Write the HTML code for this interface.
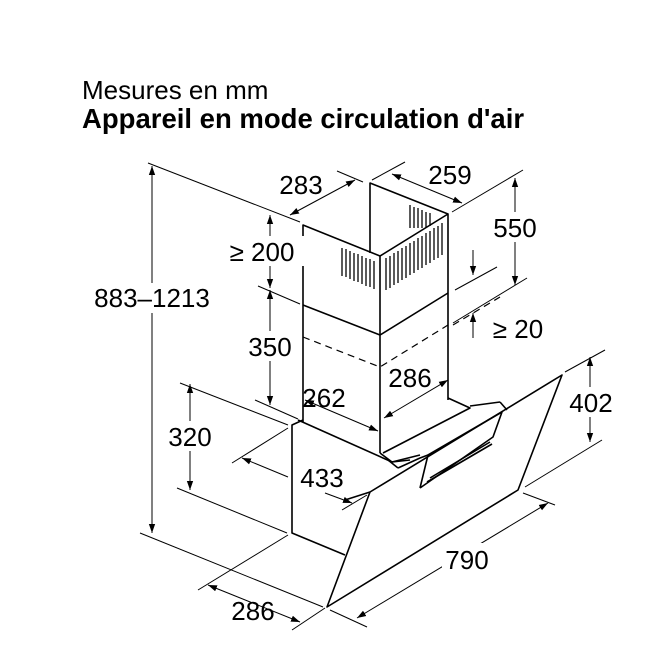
<!DOCTYPE html>
<html><head><meta charset="utf-8"><style>
html,body{margin:0;padding:0;background:#fff}
svg{display:block}
text{font-family:"Liberation Sans",Arial,sans-serif;fill:#000}
</style></head><body>
<svg width="664" height="660" viewBox="0 0 664 660" xmlns="http://www.w3.org/2000/svg">
<defs>
<marker id="a" viewBox="0 0 10 10" refX="10" refY="5" markerWidth="9" markerHeight="9" orient="auto-start-reverse" markerUnits="userSpaceOnUse">
<path d="M0,1.5 L10,5 L0,8.5 Z" fill="#000"/></marker>
</defs>
<text x="82" y="99" font-size="26">Mesures en mm</text>
<text x="82" y="128" font-size="27.5" font-weight="bold">Appareil en mode circulation d'air</text>

<g stroke="#000" fill="none" stroke-width="1">
<line x1="148" y1="163" x2="300" y2="222"/>
<line x1="140" y1="533" x2="323" y2="607"/>
<line x1="337" y1="171" x2="363" y2="182"/>
<line x1="372" y1="180" x2="405" y2="162"/>
<line x1="452" y1="212" x2="523" y2="170"/>
<line x1="455" y1="290" x2="497" y2="267"/>
<line x1="453" y1="323" x2="527" y2="278"/>
<line x1="258" y1="286" x2="300" y2="304"/>
<line x1="255" y1="400" x2="298" y2="419"/>
<line x1="180" y1="383" x2="288" y2="425"/>
<line x1="177" y1="488" x2="287" y2="533"/>
<line x1="525" y1="487" x2="602" y2="440"/>
<line x1="565" y1="372" x2="605" y2="350"/>
<line x1="232" y1="463" x2="288" y2="428"/>
<line x1="342" y1="510" x2="367" y2="495"/>
<line x1="523" y1="493" x2="555" y2="505"/>
<line x1="330" y1="610" x2="367" y2="627"/>
<line x1="198" y1="590" x2="288" y2="535"/>
<line x1="292" y1="630" x2="325" y2="608"/>
</g>

<g stroke="#000" fill="none" stroke-width="1" marker-start="url(#a)" marker-end="url(#a)">
<line x1="152" y1="166" x2="152" y2="533"/>
<line x1="290" y1="215" x2="355" y2="180"/>
<line x1="392" y1="174" x2="462" y2="203"/>
<line x1="515" y1="178" x2="515" y2="285"/>
<line x1="270" y1="215" x2="270" y2="288"/>
<line x1="270" y1="290" x2="270" y2="405"/>
<line x1="190" y1="384" x2="190" y2="490"/>
<line x1="590" y1="357" x2="590" y2="442"/>
<line x1="305" y1="400" x2="378" y2="431"/>
<line x1="384" y1="418" x2="448" y2="380"/>
<line x1="357" y1="618" x2="548" y2="503"/>
<line x1="208" y1="585" x2="300" y2="622"/>
</g>
<g stroke="#000" fill="none" stroke-width="1">
<line x1="242" y1="458" x2="288" y2="477" marker-start="url(#a)"/>
<line x1="325" y1="493" x2="352" y2="503" marker-end="url(#a)"/>
<line x1="473" y1="250" x2="473" y2="275" marker-end="url(#a)"/>
<line x1="473" y1="338" x2="473" y2="313" marker-end="url(#a)"/>
</g>

<g stroke="#000" fill="none" stroke-width="1.6" stroke-linejoin="round">
<polyline points="303,422 303,225 380,256 448,214 448,400"/>
<polyline points="370,253 370,183 448,214"/>
<line x1="380" y1="256" x2="380" y2="453"/>
<polyline points="303,305 380,335 448,293"/>
<polyline points="303,420 292,425 292,533 345,555"/>
<line x1="298" y1="420" x2="392" y2="462"/>
<polygon points="370,492 562,375 518,490 327,607"/>
<polyline points="370,492 345,500"/>
<polyline points="380,453 392,462 420,455"/>
<polyline points="448,398 470,408 383,453"/>
<polyline points="420,488 428,455 502,412 493,437 420,488"/>
<line x1="430" y1="478" x2="490" y2="442"/>
<line x1="427" y1="482" x2="492" y2="444"/>
<line x1="388" y1="460" x2="398" y2="468"/>
<polyline points="398,468 420,458 428,455"/>
<line x1="470" y1="406" x2="500" y2="402"/>
<line x1="500" y1="402" x2="507" y2="410"/>
<line x1="392" y1="462" x2="410" y2="460"/>
</g>
<g stroke="#000" fill="none" stroke-width="1.2" stroke-dasharray="7,5">
<polyline points="303,337 380,367 448,325"/>
<line x1="453" y1="325" x2="500" y2="297"/>
</g>
<g stroke="#000" stroke-width="1.3">
<line x1="342" y1="248" x2="342" y2="276"/><line x1="346" y1="249" x2="346" y2="277"/>
<line x1="350" y1="251" x2="350" y2="279"/><line x1="354" y1="253" x2="354" y2="281"/>
<line x1="358" y1="254" x2="358" y2="282"/><line x1="362" y1="256" x2="362" y2="284"/>
<line x1="366" y1="258" x2="366" y2="286"/><line x1="370" y1="259" x2="370" y2="287"/>
<line x1="374" y1="261" x2="374" y2="289"/>
<line x1="386" y1="258" x2="386" y2="290"/><line x1="390" y1="256" x2="390" y2="288"/>
<line x1="394" y1="253" x2="394" y2="285"/><line x1="398" y1="251" x2="398" y2="283"/>
<line x1="402" y1="248" x2="402" y2="280"/><line x1="406" y1="246" x2="406" y2="278"/>
<line x1="410" y1="243" x2="410" y2="275"/><line x1="414" y1="241" x2="414" y2="273"/>
<line x1="418" y1="238" x2="418" y2="270"/><line x1="422" y1="236" x2="422" y2="268"/>
<line x1="426" y1="233" x2="426" y2="265"/><line x1="430" y1="231" x2="430" y2="263"/>
<line x1="434" y1="228" x2="434" y2="260"/><line x1="438" y1="226" x2="438" y2="258"/>
<line x1="442" y1="223" x2="442" y2="255"/>
<line x1="410" y1="205" x2="410" y2="228"/><line x1="414" y1="207" x2="414" y2="228"/>
<line x1="418" y1="208" x2="418" y2="228"/><line x1="422" y1="210" x2="422" y2="228"/>
<line x1="426" y1="212" x2="426" y2="228"/><line x1="430" y1="213" x2="430" y2="226"/>
</g>

<g font-size="26" text-anchor="middle">
<rect x="84" y="283" width="136" height="30" fill="#fff"/>
<text x="152" y="307">883–1213</text>
<text x="301" y="194">283</text>
<text x="450" y="184">259</text>
<rect x="492" y="212" width="46" height="30" fill="#fff"/>
<text x="515" y="237">550</text>
<rect x="220" y="236" width="84" height="30" fill="#fff"/>
<text x="262" y="261">≥ 200</text>
<text x="518" y="338">≥ 20</text>
<rect x="246" y="331" width="48" height="30" fill="#fff"/>
<text x="270" y="356">350</text>
<rect x="166" y="421" width="48" height="30" fill="#fff"/>
<text x="190" y="446">320</text>
<rect x="567" y="387" width="48" height="30" fill="#fff"/>
<text x="591" y="412">402</text>
<text x="324" y="407">262</text>
<text x="410" y="387">286</text>
<text x="322" y="487">433</text>
<rect x="442" y="543" width="52" height="30" fill="#fff"/>
<text x="467" y="569">790</text>
<text x="253" y="620">286</text>
</g>
</svg>
</body></html>
